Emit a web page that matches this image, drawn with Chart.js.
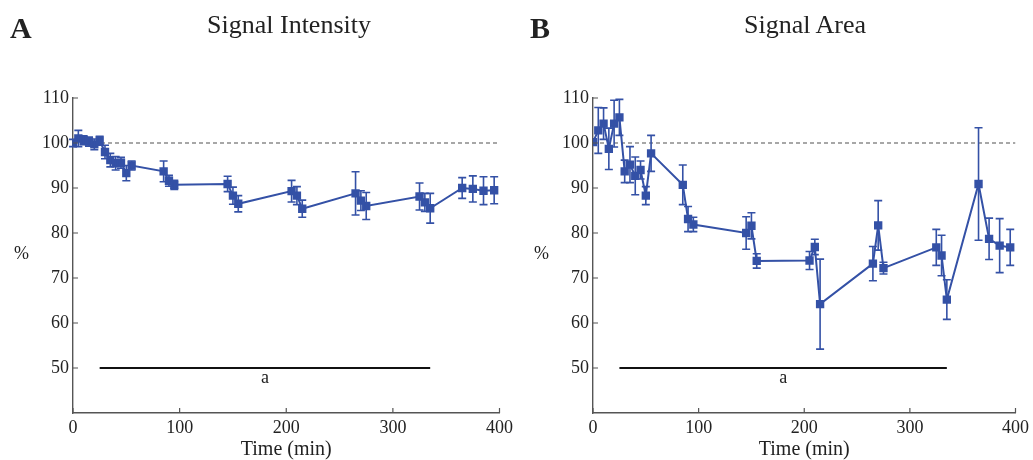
<!DOCTYPE html>
<html>
<head>
<meta charset="utf-8">
<script src="https://cdn.jsdelivr.net/npm/chart.js@4.4.1/dist/chart.umd.min.js"></script>
<style>
  html, body { margin: 0; padding: 0; background: #fff; }
  #wrap { position: relative; width: 1033px; height: 460px; overflow: hidden; font-family: "Liberation Serif", serif; color: #222; }
  canvas { position: absolute; top: 0; }
  .letter { position: absolute; font-size: 30px; font-weight: bold; line-height: 30px; }
  .title { position: absolute; font-size: 26px; line-height: 26px; width: 300px; text-align: center; }
  .pct { position: absolute; font-size: 18px; line-height: 18px; }
</style>
</head>
<body>
<div id="wrap">
  <canvas id="chartA" width="517" height="460" style="left:0;width:517px;height:460px"></canvas>
  <canvas id="chartB" width="516" height="460" style="left:517px;width:516px;height:460px"></canvas>
  <div class="letter" style="left:10px;top:13px">A</div>
  <div class="title" style="left:139px;top:12px">Signal Intensity</div>
  <div class="pct" style="left:14px;top:244px">%</div>
  <div class="letter" style="left:530px;top:13px">B</div>
  <div class="title" style="left:655px;top:12px">Signal Area</div>
  <div class="pct" style="left:534px;top:244px">%</div>
</div>
<script>
// sampling times (min), same for both panels
const times = [0, 5, 10, 15, 20, 25, 30, 35, 40, 45, 50, 55, 85, 90, 95, 145, 150, 155, 205, 210, 215, 265, 270, 275, 325, 330, 335, 365, 375, 385, 395];

// A - signal intensity (%)
const intensityMean = [100.0, 101.0, 100.6, 100.3, 99.7, 100.5, 98.0, 96.2, 95.5, 95.6, 93.3, 95.0, 93.7, 91.6, 90.7, 90.9, 88.3, 86.5, 89.3, 88.3, 85.4, 88.8, 87.2, 86.0, 88.1, 86.8, 85.5, 90.0, 89.8, 89.4, 89.5];
const intensityErr = [0.8, 1.8, 1.0, 1.0, 1.2, 1.0, 1.5, 1.5, 1.5, 1.2, 1.7, 1.0, 2.3, 1.2, 1.0, 1.7, 1.9, 1.8, 2.4, 2.0, 1.9, 4.8, 2.2, 3.0, 3.0, 2.0, 3.3, 2.3, 2.9, 3.1, 3.0];

// B - signal area (%)
const areaMean = [100.2, 102.8, 104.3, 98.7, 104.3, 105.7, 93.7, 95.2, 92.7, 94.0, 88.3, 97.7, 90.7, 83.1, 81.9, 80.0, 81.6, 73.8, 73.9, 76.9, 64.2, 73.2, 81.7, 72.2, 76.8, 75.0, 65.2, 90.9, 78.7, 77.2, 76.8];
const areaErr = [0, 5.1, 3.5, 4.6, 5.2, 4.0, 2.5, 4.0, 4.2, 2.0, 2.0, 4.0, 4.4, 2.8, 1.6, 3.6, 2.9, 1.6, 2.0, 1.7, 10.0, 3.8, 5.5, 1.3, 4.0, 4.5, 4.4, 12.5, 4.6, 6.0, 4.0];

// axes
const xTickValues = [0, 100, 200, 300, 400];
const yTickValues = [50, 60, 70, 80, 90, 100, 110];
const xRange = [0, 400];
const yRange = [40, 110];

// reference level and significance bar
const refLevel = 100;
const sigBarX = [25, 335];
const sigBarY = 50;
const sigLabel = "a";

const blue = "#3451a6";
const axisColor = "#555";

//error bars + inward ticks + "a" label
const extras = {
  id: "extras",
  afterDatasetsDraw(chart, args, opts) {
    const { ctx, chartArea } = chart;
    const xs = chart.scales.x;
    const ys = chart.scales.y;
    const meta = chart.getDatasetMeta(0);
    const pts = chart.data.datasets[0].data;

    ctx.save();
    ctx.strokeStyle = blue;
    ctx.lineWidth = 1.6;
    meta.data.forEach((el, i) => {
      const e = opts.errors[i];
      if (!e) return;
      const top = ys.getPixelForValue(pts[i].y + e);
      const bot = ys.getPixelForValue(pts[i].y - e);
      ctx.beginPath();
      ctx.moveTo(el.x, top);
      ctx.lineTo(el.x, bot);
      ctx.moveTo(el.x - 4, top);
      ctx.lineTo(el.x + 4, top);
      ctx.moveTo(el.x - 4, bot);
      ctx.lineTo(el.x + 4, bot);
      ctx.stroke();
    });

    // ticks pointing into the plot
    ctx.strokeStyle = axisColor;
    ctx.lineWidth = 1.2;
    ctx.beginPath();
    xTickValues.forEach((v) => {
      const px = xs.getPixelForValue(v);
      ctx.moveTo(px, chartArea.bottom);
      ctx.lineTo(px, chartArea.bottom - 5);
    });
    yTickValues.forEach((v) => {
      const py = ys.getPixelForValue(v);
      ctx.moveTo(chartArea.left, py);
      ctx.lineTo(chartArea.left + 5, py);
    });
    ctx.stroke();

    ctx.fillStyle = "#222";
    ctx.font = "18px 'Liberation Serif'";
    ctx.textAlign = "center";
    ctx.textBaseline = "middle";
    ctx.fillText(
      sigLabel,
      xs.getPixelForValue((sigBarX[0] + sigBarX[1]) / 2),
      ys.getPixelForValue(sigBarY) + 10,
    );
    ctx.restore();
  },
};

const makePanel = function (id, means, errs, yWidth, padRight) {
  const config = {
    type: "line",
    data: {
      datasets: [
        {
          data: times.map((t, i) => ({ x: t, y: means[i] })),
          borderColor: blue,
          backgroundColor: blue,
          borderWidth: 2,
          pointStyle: "rect",
          pointRadius: 4.5,
          tension: 0,
          order: 0,
        },
        {
          data: xRange.map((x) => ({ x: x, y: refLevel })),
          borderColor: "#8a8a8a",
          borderWidth: 1.6,
          borderDash: [4, 3],
          pointRadius: 0,
          order: 2,
        },
        {
          data: sigBarX.map((x) => ({ x: x, y: sigBarY })),
          borderColor: "#111",
          borderWidth: 2,
          pointRadius: 0,
          order: 1,
        },
      ],
    },
    options: {
      responsive: false,
      animation: false,
      layout: { padding: { top: 98, right: padRight, left: 0, bottom: 0 } },
      scales: {
        x: {
          type: "linear",
          min: xRange[0],
          max: xRange[1],
          afterBuildTicks: (s) => {
            s.ticks = xTickValues.map((v) => ({ value: v }));
          },
          afterFit: (s) => {
            s.height = 47;
          },
          grid: { display: false, drawTicks: false },
          border: { display: true, color: axisColor, width: 1.6 },
          ticks: {
            padding: 4,
            color: "#222",
            maxRotation: 0,
            font: { family: "Liberation Serif", size: 18 },
          },
          title: {
            display: true,
            text: "Time (min)",
            color: "#222",
            padding: { top: 0, bottom: 0 },
            font: { family: "Liberation Serif", size: 20, lineHeight: 1 },
          },
        },
        y: {
          type: "linear",
          min: yRange[0],
          max: yRange[1],
          afterBuildTicks: (s) => {
            s.ticks = yTickValues.map((v) => ({ value: v }));
          },
          afterFit: (s) => {
            s.width = yWidth;
          },
          grid: { display: false, drawTicks: false },
          border: { display: true, color: axisColor, width: 1.4 },
          ticks: {
            padding: 4,
            color: "#222",
            font: { family: "Liberation Serif", size: 18 },
          },
        },
      },
      plugins: {
        legend: { display: false },
        tooltip: { enabled: false },
        extras: { errors: errs },
      },
    },
    plugins: [extras],
  };
  return new Chart(document.getElementById(id), config);
};

makePanel("chartA", intensityMean, intensityErr, 73, 17);
makePanel("chartB", areaMean, areaErr, 76, 14);
</script>
</body>
</html>
